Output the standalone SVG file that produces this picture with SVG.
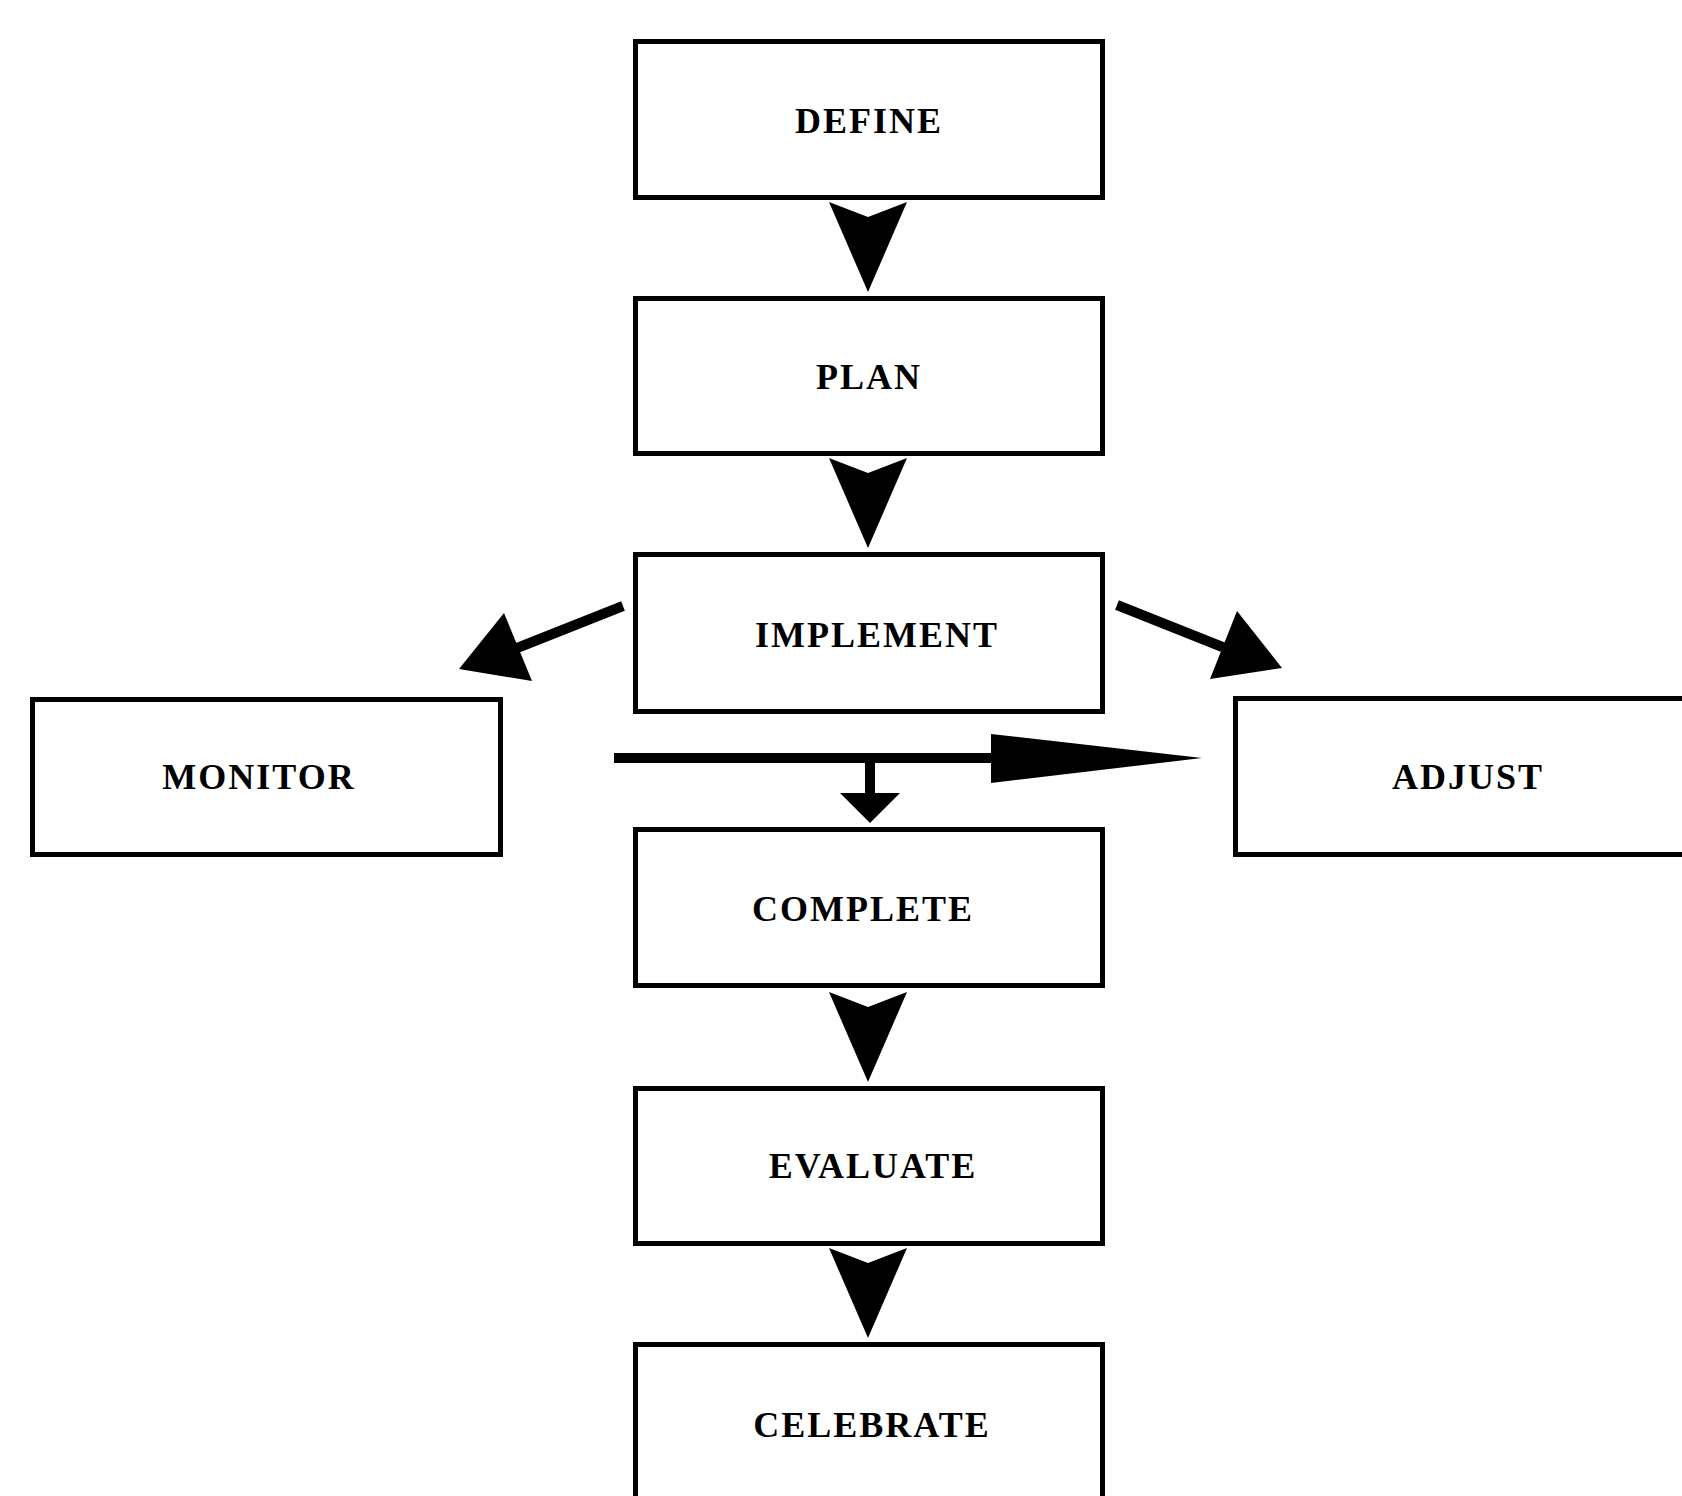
<svg xmlns="http://www.w3.org/2000/svg" width="1682" height="1496" viewBox="0 0 1682 1496">
<style>
.box{fill:#fff;stroke:#000;stroke-width:5}
.lbl{font-family:"Liberation Serif","Times New Roman",serif;font-weight:bold;font-size:36px;letter-spacing:2px;fill:#000;text-anchor:middle}
.ln{stroke:#000;stroke-width:10;fill:none;stroke-linecap:butt}
.hd{fill:#000;stroke:none}
</style>
<defs>
<path id="vhead" d="M0,0 L-39,-90 L0,-75 L39,-90 Z"/>
</defs>
<rect width="1682" height="1496" fill="#fff"/>
<g id="connectors">
<use href="#vhead" class="hd" transform="translate(868,292)"/>
<use href="#vhead" class="hd" transform="translate(868,548)"/>
<use href="#vhead" class="hd" transform="translate(868,1082)"/>
<use href="#vhead" class="hd" transform="translate(868,1338)"/>
<line class="ln" x1="623" y1="606" x2="512" y2="650"/>
<polygon class="hd" points="459,669 504,613 532,681"/>
<line class="ln" x1="1117" y1="605" x2="1230" y2="650"/>
<polygon class="hd" points="1282,668 1237,611 1210,679"/>
<line class="ln" x1="614" y1="758" x2="994" y2="758"/>
<polygon class="hd" points="991,734 1202,758 991,783"/>
<line class="ln" x1="870" y1="758" x2="870" y2="795"/>
<polygon class="hd" points="840,793 900,793 870,823"/>
</g>
<g id="define"><rect class="box" x="635.5" y="41.5" width="467" height="156"/><text class="lbl" x="869" y="133">DEFINE</text></g>
<g id="plan"><rect class="box" x="635.5" y="298.5" width="467" height="155"/><text class="lbl" x="869" y="389">PLAN</text></g>
<g id="implement"><rect class="box" x="635.5" y="554.5" width="467" height="157"/><text class="lbl" x="877" y="647">IMPLEMENT</text></g>
<g id="monitor"><rect class="box" x="32.5" y="699.5" width="468" height="155"/><text class="lbl" x="259" y="789">MONITOR</text></g>
<g id="adjust"><rect class="box" x="1235.5" y="698.5" width="500" height="156"/><text class="lbl" x="1468" y="789">ADJUST</text></g>
<g id="complete"><rect class="box" x="635.5" y="829.5" width="467" height="156"/><text class="lbl" x="863" y="921">COMPLETE</text></g>
<g id="evaluate"><rect class="box" x="635.5" y="1088.5" width="467" height="155"/><text class="lbl" x="873" y="1178">EVALUATE</text></g>
<g id="celebrate"><rect class="box" x="635.5" y="1344.5" width="467" height="200"/><text class="lbl" x="872" y="1437">CELEBRATE</text></g>
</svg>
